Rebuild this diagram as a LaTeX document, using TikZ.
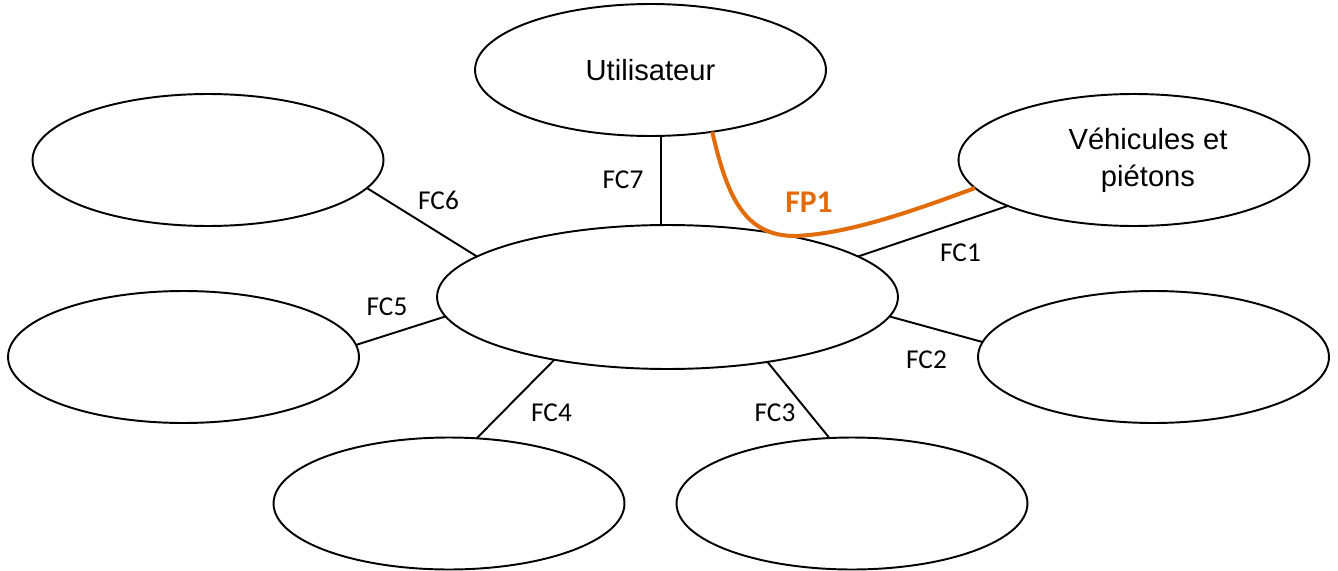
\documentclass[tikz,border=0pt]{standalone}
\usepackage{fontspec}
\setmainfont{Liberation Sans}
\newfontfamily\calibri{Carlito}
\usetikzlibrary{shapes.geometric}
\definecolor{fporange}{HTML}{E36C0A}

\begin{document}
\begin{tikzpicture}[x=0.02cm, y=-0.02cm, line width=1.1pt,
    env node/.style={ellipse, draw, minimum width=7.02cm, minimum height=2.64cm, inner sep=0pt, outer sep=0pt, font=\fontsize{16.6}{21}\selectfont},
    fc label/.style={font=\calibri\fontsize{15.5}{18}\selectfont, inner sep=0pt}]

          \useasboundingbox (0,0) rectangle (1338,571);

          \node[env node, minimum width=9.22cm, minimum height=2.88cm] (0) at (667.5,297) {};
          \node[env node] (7) at (650.5,70) {Utilisateur};
          \node[env node, label={[font=\fontsize{16.6}{21}\selectfont, align=center, xshift=0.28cm]center:Véhicules et\\piétons}] (1) at (1134,160) {};
          \node[env node] (2) at (1153.5,357) {};
          \node[env node] (3) at (852,503.5) {};
          \node[env node] (4) at (449,503.5) {};
          \node[env node] (5) at (183.5,357) {};
          \node[env node] (6) at (208,160) {};

          \node[fc label] (fc1) at (960.5,252.5) {FC1};
          \node[fc label] (fc2) at (926.5,359.5) {FC2};
          \node[fc label] (fc3) at (775,412.5) {FC3};
          \node[fc label] (fc4) at (551.5,412.5) {FC4};
          \node[fc label] (fc5) at (387,306.5) {FC5};
          \node[fc label] (fc6) at (438.5,200) {FC6};
          \node[fc label] (fc7) at (623,179.5) {FC7};
          \node[fc label, font=\calibri\bfseries\fontsize{18}{21}\selectfont, text=fporange] (fp1) at (809,202) {FP1};

          \draw (1.200.1) -- (0.12.4);
          \draw (2.175.7) -- (0.-5.5);
          \draw (3.109.1) -- (0.-33.7);
          \draw (4.67.9) -- (0.209.9);
          \draw (5.4.3) -- (0.185.5);
          \draw (6.-10.5) -- (0.168.2);
          \draw (7.south -| 0.95) -- (0.95);

          \coordinate (fpbot) at (795,236);
          \draw[fporange, line width=2.3pt] (7.-45.2) .. controls +(15,66) and +(-50,0) .. (fpbot) .. controls +(55,-2) and +(-57,21) .. (1.190.5);
        \end{tikzpicture}
\end{document}
